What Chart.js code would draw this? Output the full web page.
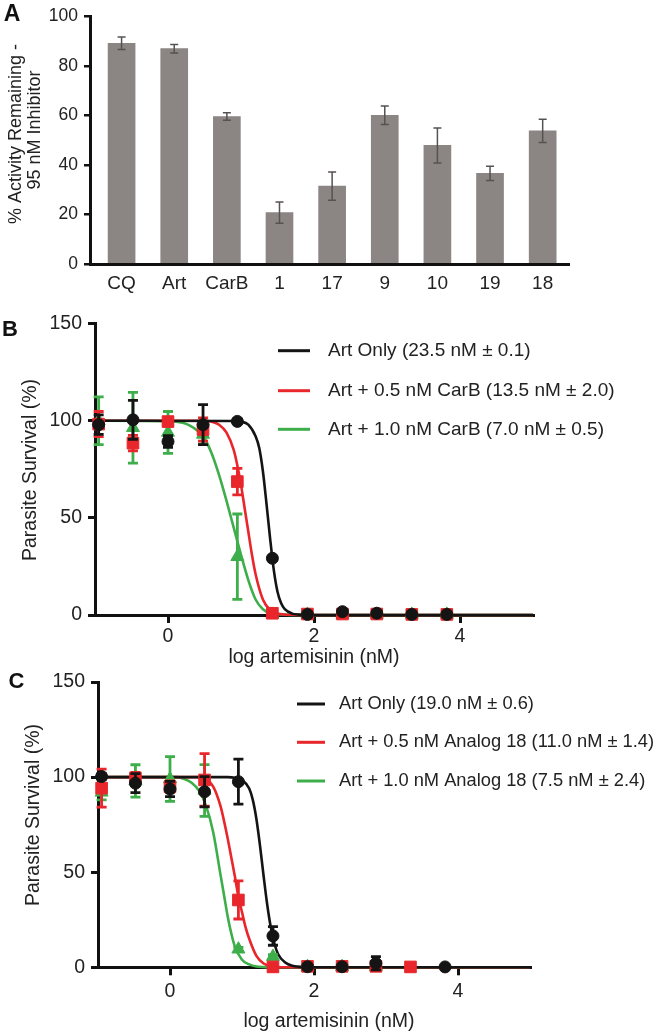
<!DOCTYPE html>
<html><head><meta charset="utf-8">
<script src="https://cdn.jsdelivr.net/npm/chart.js@4.4.0/dist/chart.umd.min.js"></script>
<style>
html,body{margin:0;padding:0;background:#fff;}
body{width:666px;height:1034px;position:relative;overflow:hidden;}
canvas{position:absolute;left:0;}
</style></head><body>
<canvas id="cA" width="666" height="305" style="top:0px"></canvas>
<canvas id="cB" width="666" height="375" style="top:300px"></canvas>
<canvas id="cC" width="666" height="374" style="top:660px"></canvas>
<script>
// ---------- Panel A data ----------
const barCategories = ['CQ','Art','CarB','1','17','9','10','19','18'];
const barValues = [89.2, 87.0, 59.6, 20.8, 31.5, 60.1, 47.9, 36.6, 53.8];
const barErrors = [2.5, 1.7, 1.5, 4.3, 5.7, 3.7, 7.1, 2.9, 4.7];
const barYTicks = [0, 20, 40, 60, 80, 100];

// ---------- Panels B / C shared ----------
const logConc = [-0.95, -0.48, 0, 0.48, 0.95, 1.43, 1.91, 2.39, 2.86, 3.34, 3.82];
const survXTicks = [0, 2, 4];
const survYTicks = [0, 50, 100, 150];

// ---------- Panel B data ----------
const bLabels = ['Art Only (23.5 nM \u00b1 0.1)', 'Art + 0.5 nM CarB (13.5 nM \u00b1 2.0)', 'Art + 1.0 nM CarB (7.0 nM \u00b1 0.5)'];
const bArtOnly    = [98, 100.5, 89.3, 98, 99.7, 29.2, 0.3, 1.7, 0.9, 0.3, 0.3];
const bArtOnlyErr = [5, 10, 3, 10.3, 1, 1, 0.5, 1, 1, 0.5, 0.5];
const bCarB05     = [98.3, 88.5, 99.6, 95.5, 68.7, 0.9, 0.5, 0.5, 0.5, 0.3, 0.3];
const bCarB05Err  = [6.5, 4, 2, 6, 6.8, 1, 1, 1, 1, 1, 1];
const bCarB10     = [100, 96.4, 94, 93, 30, 0.3, 0.3, 0.3, 0.3, 0.3, 0.3];
const bCarB10Err  = [12.3, 18.2, 10.8, 5, 22, 0.5, 0.5, 0.5, 0.5, 0.5, 0.5];
const bCurveArtX = [-1, 0.9, 1.0, 1.1, 1.2, 1.25, 1.3, 1.35, 1.4, 1.45, 1.5, 1.55, 1.6, 1.7, 1.8, 2.0, 5];
const bCurveArtY = [100, 99.9, 99.6, 98, 92, 86, 74, 57, 39, 23, 12, 6, 3, 0.7, 0.2, 0, 0];
const bCurve05X  = [-1, 0.5, 0.6, 0.7, 0.8, 0.9, 0.95, 1.0, 1.05, 1.1, 1.15, 1.2, 1.3, 1.4, 1.5, 1.7, 2.0, 5];
const bCurve05Y  = [100, 100, 99.5, 98, 94, 85, 77, 67, 55, 43, 31, 21, 8, 2.5, 0.8, 0.1, 0, 0];
const bCurve10X  = [-1, 0, 0.2, 0.3, 0.4, 0.5, 0.6, 0.7, 0.8, 0.9, 1.0, 1.1, 1.2, 1.3, 1.4, 1.6, 2.0, 5];
const bCurve10Y  = [100, 99.8, 99, 97.5, 95, 91, 83, 72, 59, 45, 31, 18, 8, 3, 1, 0.2, 0, 0];

// ---------- Panel C data ----------
const cLabels = ['Art Only (19.0 nM \u00b1 0.6)', 'Art + 0.5 nM Analog 18 (11.0 nM \u00b1 1.4)', 'Art + 1.0 nM Analog 18 (7.5 nM \u00b1 2.4)'];
const cArtOnly     = [100.3, 96.8, 93.7, 92.3, 97.6, 16.5, 0.3, 0.3, 2.1, null, 0.2];
const cArtOnlyErr  = [1.5, 5, 4, 8, 11.8, 4.9, 0.5, 0.5, 3.5, 0, 0.5];
const cAnalog05    = [94.2, 99.5, 95, 98.5, 35.4, 0.2, 0.5, 0.5, 0.5, 0.2, null];
const cAnalog05Err = [10, 3, 3, 13.8, 10, 0.5, 1, 1, 1, 0.5, 0];
const cAnalog10    = [92, 98, 99, 93, 9.5, 5.6, 0.3, 0.3, 0.3, null, null];
const cAnalog10Err = [4, 8.5, 11.8, 13.6, 1, 1, 0.5, 0.5, 0.5, 0, 0];
const cCurveArtX = [-1, 0.8, 0.9, 1.0, 1.1, 1.15, 1.2, 1.25, 1.3, 1.35, 1.4, 1.45, 1.5, 1.6, 1.7, 1.9, 2.1, 5];
const cCurveArtY = [100, 100, 99.7, 98.5, 94, 88, 78, 64, 48, 33, 21, 12.5, 7, 2.5, 0.8, 0.1, 0, 0];
const cCurve05X  = [-1, 0.4, 0.5, 0.6, 0.7, 0.75, 0.8, 0.85, 0.9, 0.95, 1.0, 1.05, 1.1, 1.2, 1.3, 1.4, 1.6, 5];
const cCurve05Y  = [100, 100, 99, 95, 85, 77, 68, 58, 48, 37, 29, 21, 15, 6, 2, 0.6, 0, 0];
const cCurve10X  = [-1, 0.1, 0.2, 0.3, 0.4, 0.5, 0.6, 0.7, 0.75, 0.8, 0.85, 0.9, 1.0, 1.1, 1.2, 1.4, 5];
const cCurve10Y  = [100, 100, 99, 97, 93, 85, 71, 49, 38, 27, 18, 11, 4, 1.5, 0.4, 0, 0];

const BLACK = '#141414', RED = '#e8262b', GREEN = '#3dae4a';
const FONT = '"Liberation Sans", Arial, Helvetica, sans-serif';
Chart.defaults.font.family = FONT;
Chart.defaults.color = '#222';

// ---------- plugins ----------
const errPlugin = {
  id: 'errbars',
  _draw(chart, index) {
    const ds = chart.data.datasets[index];
    if (!ds.errors) return;
    const ctx = chart.ctx, xs = chart.scales.x, ys = chart.scales.y;
    ctx.save();
    ctx.strokeStyle = ds.errColor; ctx.lineWidth = ds.errWidth;
    ds.data.forEach((p) => {
      const e = ds.errors[p.i];
      if (!e) return;
      const px = xs.getPixelForValue(p.x);
      const top = ys.getPixelForValue(p.y + e), bot = ys.getPixelForValue(p.y - e);
      ctx.beginPath();
      ctx.moveTo(px, top); ctx.lineTo(px, bot);
      ctx.moveTo(px - ds.errCap, top); ctx.lineTo(px + ds.errCap, top);
      ctx.moveTo(px - ds.errCap, bot); ctx.lineTo(px + ds.errCap, bot);
      ctx.stroke();
    });
    ctx.restore();
  },
  beforeDatasetDraw(chart, args) { const ds = chart.data.datasets[args.index]; if (!ds.errAfter) this._draw(chart, args.index); },
  afterDatasetDraw(chart, args) { const ds = chart.data.datasets[args.index]; if (ds.errAfter) this._draw(chart, args.index); }
};
const textPlugin = {
  id: 'texts',
  afterDraw(chart, args, opts) {
    const ctx = chart.ctx;
    (opts.items || []).forEach(it => {
      ctx.save();
      ctx.translate(it.x, it.y);
      if (it.rot) ctx.rotate(it.rot);
      ctx.font = it.font; ctx.fillStyle = it.color || '#222';
      ctx.textAlign = it.align || 'center'; ctx.textBaseline = 'middle';
      ctx.fillText(it.text, 0, 0);
      ctx.restore();
    });
  }
};
const keyPlugin = {
  id: 'key',
  afterDraw(chart, args, opts) {
    const ctx = chart.ctx;
    (opts.rows || []).forEach(r => {
      ctx.save();
      ctx.strokeStyle = r.color; ctx.lineWidth = 3;
      ctx.beginPath(); ctx.moveTo(opts.x1, r.y); ctx.lineTo(opts.x2, r.y); ctx.stroke();
      ctx.font = opts.font; ctx.fillStyle = '#222'; ctx.textAlign = 'left'; ctx.textBaseline = 'middle';
      ctx.fillText(r.text, opts.tx, r.y);
      ctx.restore();
    });
  }
};
Chart.register(errPlugin, textPlugin, keyPlugin);

// ---------- Panel A ----------
new Chart(document.getElementById('cA'), {
  type: 'bar',
  data: { datasets: [{
    data: barValues.map((v, i) => ({ x: i, y: v, i: i })),
    errors: barErrors, errColor: '#575252', errWidth: 1.5, errCap: 4, errAfter: true,
    backgroundColor: '#8b8584', barThickness: 27, borderWidth: 0
  }]},
  options: {
    responsive: false, animation: false, events: [],
    layout: { padding: { left: 0, right: 97, top: 11, bottom: 0 } },
    plugins: { legend: { display: false }, tooltip: { enabled: false },
      texts: { items: [
        { text: 'A', x: 12, y: 15, font: 'bold 23px ' + FONT, color: '#111' },
        { text: '% Activity Remaining -', x: 16, y: 134, rot: -Math.PI / 2, font: '18px ' + FONT },
        { text: '95 nM Inhibitor', x: 35, y: 130, rot: -Math.PI / 2, font: '18px ' + FONT }
      ]}
    },
    scales: {
      x: { type: 'linear', min: -0.6, max: 8.5, offset: false,
        afterBuildTicks: s => { s.ticks = barCategories.map((c, i) => ({ value: i })); },
        ticks: { callback: v => barCategories[v], font: { size: 19 }, color: '#222', padding: 8, autoSkip: false, maxRotation: 0 },
        grid: { display: false, drawTicks: false, offset: false },
        border: { display: true, color: '#111', width: 3 },
        afterFit: s => { s.height = 41; } },
      y: { min: 0, max: 100,
        afterBuildTicks: s => { s.ticks = barYTicks.map(v => ({ value: v })); },
        ticks: { font: { size: 17.5 }, color: '#222', padding: 6 },
        grid: { display: true, drawOnChartArea: false, drawTicks: true, tickLength: 6, color: '#111', lineWidth: 2.5 },
        border: { display: true, color: '#111', width: 3 },
        afterFit: s => { s.width = 90; } }
    }
  }
});

// ---------- helpers for survival panels ----------
function pts(vals) { return logConc.map((x, i) => ({ x: x, y: vals[i], i: i })).filter(p => p.y !== null); }
function curve(xs, ys) { return xs.map((x, i) => ({ x: x, y: ys[i] })); }
function pointSet(vals, errs, color, style, radius, order) {
  return { data: pts(vals), errors: errs, errColor: color, errWidth: 2.8, errCap: 5,
    showLine: false, pointStyle: style, pointRadius: radius, pointBackgroundColor: color,
    pointBorderColor: color, pointBorderWidth: 1, order: order, clip: false };
}
function curveSet(xs, ys, color, order) {
  return { data: curve(xs, ys), showLine: true, pointRadius: 0, borderColor: color, borderWidth: 2.6,
    cubicInterpolationMode: 'monotone', order: order, clip: false, fill: false };
}
function survScales(yWidth, xHeight, xPad) {
  return {
    x: { type: 'linear', min: -1, max: 5,
      afterBuildTicks: s => { s.ticks = survXTicks.map(v => ({ value: v })); },
      ticks: { font: { size: 19.5 }, color: '#222', padding: xPad },
      grid: { display: true, drawOnChartArea: false, drawTicks: true, tickLength: 8, color: '#111', lineWidth: 3 },
      border: { display: true, color: '#111', width: 3 },
      afterFit: s => { s.height = xHeight; } },
    y: { min: 0, max: 150,
      afterBuildTicks: s => { s.ticks = survYTicks.map(v => ({ value: v })); },
      ticks: { font: { size: 19.5 }, color: '#222', padding: 6 },
      grid: { display: true, drawOnChartArea: false, drawTicks: true, tickLength: 7, color: '#111', lineWidth: 3 },
      border: { display: true, color: '#111', width: 3 },
      afterFit: s => { s.width = yWidth; } }
  };
}

// ---------- Panel B ----------
new Chart(document.getElementById('cB'), {
  type: 'scatter',
  data: { datasets: [
    pointSet(bArtOnly, bArtOnlyErr, BLACK, 'circle', 6, 0),
    pointSet(bCarB05, bCarB05Err, RED, 'rect', 8.2, 1),
    pointSet(bCarB10, bCarB10Err, GREEN, 'triangle', 7.5, 2),
    curveSet(bCurveArtX, bCurveArtY, BLACK, 3),
    curveSet(bCurve05X, bCurve05Y, RED, 4),
    curveSet(bCurve10X, bCurve10Y, GREEN, 5)
  ]},
  options: {
    responsive: false, animation: false, events: [],
    layout: { padding: { left: 0, right: 133, top: 23.7, bottom: 0 } },
    plugins: { legend: { display: false }, tooltip: { enabled: false },
      texts: { items: [
        { text: 'B', x: 10, y: 30, font: 'bold 22px ' + FONT, color: '#111' },
        { text: 'Parasite Survival (%)', x: 31, y: 170, rot: -Math.PI / 2, font: '19.5px ' + FONT },
        { text: 'log artemisinin (nM)', x: 314, y: 358, font: '19.5px ' + FONT }
      ]},
      key: { x1: 278, x2: 310, tx: 328, font: '19px ' + FONT, rows: [
        { y: 50.7, color: BLACK, text: bLabels[0] },
        { y: 90.7, color: RED, text: bLabels[1] },
        { y: 129.3, color: GREEN, text: bLabels[2] }
      ]}
    },
    scales: survScales(95, 60, 2)
  }
});

// ---------- Panel C ----------
new Chart(document.getElementById('cC'), {
  type: 'scatter',
  data: { datasets: [
    pointSet(cArtOnly, cArtOnlyErr, BLACK, 'circle', 6, 0),
    pointSet(cAnalog05, cAnalog05Err, RED, 'rect', 8.2, 1),
    pointSet(cAnalog10, cAnalog10Err, GREEN, 'triangle', 7.5, 2),
    curveSet(cCurveArtX, cCurveArtY, BLACK, 3),
    curveSet(cCurve05X, cCurve05Y, RED, 4),
    curveSet(cCurve10X, cCurve10Y, GREEN, 5)
  ]},
  options: {
    responsive: false, animation: false, events: [],
    layout: { padding: { left: 0, right: 136, top: 22, bottom: 0 } },
    plugins: { legend: { display: false }, tooltip: { enabled: false },
      texts: { items: [
        { text: 'C', x: 16.5, y: 21.7, font: 'bold 22px ' + FONT, color: '#111' },
        { text: 'Parasite Survival (%)', x: 34, y: 155, rot: -Math.PI / 2, font: '19.5px ' + FONT },
        { text: 'log artemisinin (nM)', x: 329, y: 361.7, font: '19.5px ' + FONT }
      ]},
      key: { x1: 297, x2: 325, tx: 339, font: '18.3px ' + FONT, rows: [
        { y: 44, color: BLACK, text: cLabels[0] },
        { y: 82.3, color: RED, text: cLabels[1] },
        { y: 121, color: GREEN, text: cLabels[2] }
      ]}
    },
    scales: survScales(98, 66.7, 5)
  }
});
</script>
</body></html>
